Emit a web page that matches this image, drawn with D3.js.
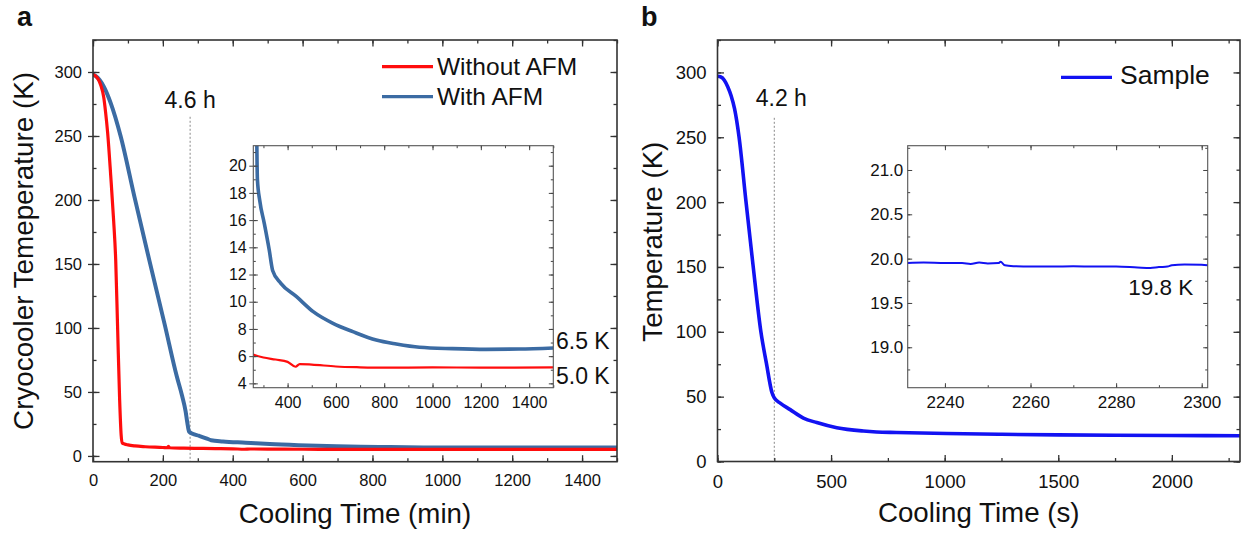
<!DOCTYPE html>
<html><head><meta charset="utf-8">
<script src="https://cdn.jsdelivr.net/npm/d3@7"></script>
<style>
body{margin:0;background:#fff}
svg{display:block}
text{font-family:"Liberation Sans",Arial,Helvetica,sans-serif;fill:#111}
</style>
</head><body>
<svg id="c" width="1243" height="536"></svg>
<script>
// ---------------- data ----------------
// Panel a: cryocooler temperature (K) vs cooling time (min)
const timeWithout = [0,13,22,30.6,36,42,50.6,59,65,70.6,76.3,80.6,84,90,100,120,150,200,213,216,219,260,300,350,400,433,450,500,600,700,800,1000,1200,1500];
const tempWithout = [298,295.2,289.8,280.4,268.7,252.3,219.5,184.3,153,98.4,43.7,16.3,10.1,9.3,8.6,7.8,7.2,6.6,6.4,7.5,6.4,6.1,5.9,5.75,5.58,5.22,5.42,5.38,5.24,5.18,5.15,5.17,5.16,5.17];
const timeWith = [0,8,19,31,51,79,119,162,205,240,255,265,270,275,285,303,324,338,372,437,506,588,670,767,850,946,1083,1221,1358,1500];
const tempWith = [298,296.8,293.7,288.5,275.5,250,202,152,103,62,47,35,26,19,17.4,15.8,13.8,12.3,11.35,10.37,9.27,8.41,7.8,7.18,6.89,6.65,6.55,6.5,6.52,6.6];
// Panel b: sample temperature (K) vs cooling time (s)
const timeSample = [0,15,30,45,60,75,95,125,156,191,215,240,250,276,320,378,437,525,642,700,788,1008,1250,1500,1750,2000,2300];
const tempSample = [297,296.5,294,289,282,272,250,201,152,100,76,53,49,45,40,33.5,30,26,23.5,22.8,22.4,21.6,21,20.5,20.2,20,19.9];
const timeSampleZoom = [2231.3,2235,2240,2244,2246,2248,2250,2252.5,2253,2254,2256,2260,2265,2270,2275,2280,2285,2288,2290,2292,2293,2296,2300,2301.4];
const tempSampleZoom = [19.95,19.955,19.95,19.95,19.94,19.955,19.945,19.95,19.965,19.925,19.915,19.91,19.91,19.915,19.91,19.91,19.9,19.895,19.905,19.91,19.925,19.935,19.93,19.925];

// tick labels
const xTicksA = [0,200,400,600,800,1000,1200,1400];
const yTicksA = [0,50,100,150,200,250,300];
const xTicksInsetA = [400,600,800,1000,1200,1400];
const yTicksInsetA = [4,6,8,10,12,14,16,18,20];
const xTicksB = [0,500,1000,1500,2000];
const yTicksB = [0,50,100,150,200,250,300];
const xTicksInsetB = [2240,2260,2280,2300];
const yTicksInsetB = [19.0,19.5,20.0,20.5,21.0];

const seriesNames = ["Without AFM","With AFM","Sample"];
const markTime = {a:278, b:250};
const annot = {a:"4.6 h", b:"4.2 h", withoutEnd:"5.0 K", withEnd:"6.5 K", sampleEnd:"19.8 K"};

// ---------------- drawing ----------------
const FONT = '"Liberation Sans",Arial,Helvetica,sans-serif';
const RED = "#ff0d0d", STEEL = "#3b6ba3", BLUE = "#1212f2";
const svg = d3.select("#c");

function zip(t, v){ return t.map((d,i)=>[d, v[i]]); }

function axes(g, x, y, o){
  const X0 = x.range()[0], X1 = x.range()[1], Yb = y.range()[0], Yt = y.range()[1];
  const mk = (axis, tr, vals, size, labels, pad, fmt) => {
    const a = axis.tickValues(vals).tickSize(size).tickSizeOuter(0).tickPadding(pad)
      .tickFormat(labels ? fmt : () => "");
    const s = g.append("g").attr("transform", tr).call(a);
    s.select(".domain").remove();
    s.selectAll("line").attr("stroke", o.tc).attr("stroke-width", o.tw);
    s.selectAll("text").attr("font-size", o.fs).attr("fill", "#111").attr("font-family", FONT);
    return s;
  };
  const xMin = d3.range(Math.ceil(x.domain()[0]/o.xStep)*o.xStep, x.domain()[1] + 1e-9, o.xStep);
  const yMin = d3.range(Math.ceil(y.domain()[0]/o.yStep)*o.yStep, y.domain()[1] + 1e-9, o.yStep);
  mk(d3.axisBottom(x), `translate(0,${Yb})`, o.xMaj, -o.maj, true, o.xPad, o.xFmt);
  mk(d3.axisBottom(x), `translate(0,${Yb})`, xMin, -o.min, false, 0);
  mk(d3.axisTop(x), `translate(0,${Yt})`, o.xMaj, -o.maj, false, 0);
  mk(d3.axisTop(x), `translate(0,${Yt})`, xMin, -o.min, false, 0);
  mk(d3.axisLeft(y), `translate(${X0},0)`, o.yMaj, -o.maj, true, o.yPad, o.yFmt);
  if (o.leftOut) mk(d3.axisLeft(y), `translate(${X0},0)`, o.yMaj, o.leftOut, false, 0);
  mk(d3.axisLeft(y), `translate(${X0},0)`, yMin, -o.min, false, 0);
  mk(d3.axisRight(y), `translate(${X1},0)`, o.yMaj, -o.maj, false, 0);
  mk(d3.axisRight(y), `translate(${X1},0)`, yMin, -o.min, false, 0);
  g.append("rect").attr("x", X0).attr("y", Yt).attr("width", X1-X0).attr("height", Yb-Yt)
    .attr("fill", "none").attr("stroke", o.fc).attr("stroke-width", o.fw);
}

function clip(id, x, y){
  svg.append("clipPath").attr("id", id).append("rect")
    .attr("x", x.range()[0]).attr("y", y.range()[1])
    .attr("width", x.range()[1]-x.range()[0]).attr("height", y.range()[0]-y.range()[1]);
}

function curve(g, x, y, data, color, w, clipId){
  const line = d3.line().x(d => x(d[0])).y(d => y(d[1])).curve(d3.curveMonotoneX);
  g.append("path").attr("d", line(data)).attr("fill", "none").attr("stroke", color)
    .attr("stroke-width", w).attr("stroke-linejoin", "round").attr("stroke-linecap", "round")
    .attr("clip-path", `url(#${clipId})`);
}

function txt(x, y, s, size, opts={}){
  const t = svg.append("text").attr("x", x).attr("y", y).attr("font-size", size).attr("font-family", FONT).text(s);
  if (opts.anchor) t.attr("text-anchor", opts.anchor);
  if (opts.weight) t.attr("font-weight", opts.weight);
  if (opts.rotate) t.attr("transform", `rotate(-90,${x},${y})`);
  return t;
}

// ===== Panel a =====
const xA = d3.scaleLinear([0,1500],[93,617]);
const yA = d3.scaleLinear([-4.5,325],[461.7,40]);
const gA = svg.append("g");
clip("clipA", xA, yA);
gA.append("line").attr("x1", xA(markTime.a)).attr("x2", xA(markTime.a))
  .attr("y1", yA(265)).attr("y2", yA(-4.5)).attr("stroke", "#888").attr("stroke-width", 1).attr("stroke-dasharray", "2,2");
curve(gA, xA, yA, zip(timeWith, tempWith), STEEL, 4, "clipA");
curve(gA, xA, yA, zip(timeWithout, tempWithout), RED, 3.2, "clipA");
axes(gA, xA, yA, {xMaj:xTicksA, yMaj:yTicksA, xStep:100, yStep:25, maj:6.5, min:3.5, leftOut:5,
  xPad:12.6, yPad:11, fs:16.5, tc:"#333", tw:1.3, fc:"#333", fw:1.6, xFmt:d3.format("d"), yFmt:d3.format("d")});

[[seriesNames[0], RED, 66.7, 75],[seriesNames[1], STEEL, 96.7, 105]].forEach(([n,c,ly,ty]) => {
  svg.append("line").attr("x1", 382).attr("x2", 433).attr("y1", ly).attr("y2", ly).attr("stroke", c).attr("stroke-width", 3.2);
  txt(437, ty, n, 24.5);
});
txt(xA(markTime.a), 108.3, annot.a, 23, {anchor:"middle"});

// inset a
const xIa = d3.scaleLinear([258,1500],[253.3,553.3]);
const yIa = d3.scaleLinear([3.68,21.47],[387.7,145.7]);
const gIa = svg.append("g");
gIa.append("rect").attr("x",253.3).attr("y",145.7).attr("width",300).attr("height",242).attr("fill","#fff");
clip("clipIa", xIa, yIa);
curve(gIa, xIa, yIa, zip(timeWith, tempWith), STEEL, 3.6, "clipIa");
curve(gIa, xIa, yIa, zip(timeWithout, tempWithout), RED, 2.2, "clipIa");
axes(gIa, xIa, yIa, {xMaj:xTicksInsetA, yMaj:yTicksInsetA, xStep:100, yStep:1, maj:4.5, min:2.5, leftOut:4,
  xPad:9, yPad:6.6, fs:16, tc:"#444", tw:1, fc:"#555", fw:1.1, xFmt:d3.format("d"), yFmt:d3.format("d")});
txt(556, 349.3, annot.withEnd, 23);
txt(556, 384, annot.withoutEnd, 23);

txt(17, 26, "a", 27, {weight:"bold"});
txt((93+617)/2, 523.3, "Cooling Time (min)", 27.7, {anchor:"middle"});
txt(33.3, 251, "Cryocooler Temeperature (K)", 27.8, {anchor:"middle", rotate:true});

// ===== Panel b =====
const xB = d3.scaleLinear([0,2300],[717.5,1240]);
const yB = d3.scaleLinear([0,325],[461.5,40]);
const gB = svg.append("g");
clip("clipB", xB, yB);
gB.append("line").attr("x1", xB(markTime.b)).attr("x2", xB(markTime.b))
  .attr("y1", yB(265)).attr("y2", yB(0)).attr("stroke", "#888").attr("stroke-width", 1).attr("stroke-dasharray", "2,2");
curve(gB, xB, yB, zip(timeSample, tempSample), BLUE, 3.6, "clipB");
axes(gB, xB, yB, {xMaj:xTicksB, yMaj:yTicksB, xStep:250, yStep:25, maj:6.5, min:3.5, leftOut:0,
  xPad:13, yPad:11, fs:18.5, tc:"#333", tw:1.3, fc:"#333", fw:1.6, xFmt:d3.format("d"), yFmt:d3.format("d")});

svg.append("line").attr("x1", 1061).attr("x2", 1112).attr("y1", 77.3).attr("y2", 77.3).attr("stroke", BLUE).attr("stroke-width", 3.2);
txt(1120, 84.3, seriesNames[2], 26.5);
txt(xB(markTime.b)+7, 106, annot.b, 23, {anchor:"middle"});

// inset b
const xIb = d3.scaleLinear([2231.3,2301.4],[907.7,1207.7]);
const yIb = d3.scaleLinear([18.544,21.274],[387.7,145.7]);
const gIb = svg.append("g");
gIb.append("rect").attr("x",907.7).attr("y",145.7).attr("width",300).attr("height",242).attr("fill","#fff");
clip("clipIb", xIb, yIb);
curve(gIb, xIb, yIb, zip(timeSampleZoom, tempSampleZoom), BLUE, 2, "clipIb");
axes(gIb, xIb, yIb, {xMaj:xTicksInsetB, yMaj:yTicksInsetB, xStep:10, yStep:0.25, maj:4.5, min:2.5, leftOut:0,
  xPad:8, yPad:4.4, fs:17, tc:"#444", tw:1, fc:"#555", fw:1.1, xFmt:d3.format("d"), yFmt:d3.format(".1f")});
txt(1128.3, 295, annot.sampleEnd, 22.5);

txt(641, 26, "b", 27, {weight:"bold"});
txt((717.5+1240)/2, 521.5, "Cooling Time (s)", 27.7, {anchor:"middle"});
txt(662, 241.7, "Temperature (K)", 27.7, {anchor:"middle", rotate:true});
</script>
</body></html>
